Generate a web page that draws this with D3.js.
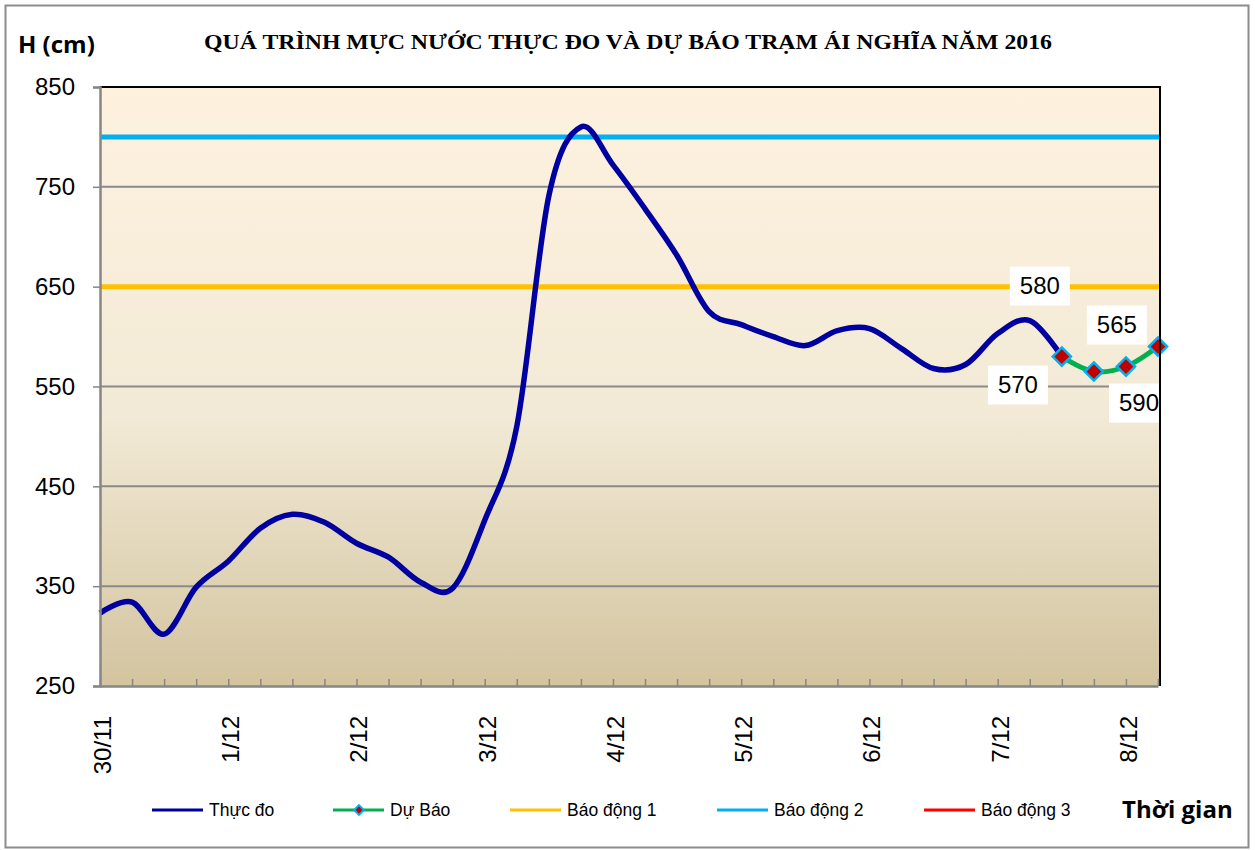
<!DOCTYPE html>
<html>
<head>
<meta charset="utf-8">
<script src="https://cdn.jsdelivr.net/npm/d3@7"></script>
<style>
  body { margin: 0; background: #fff; }
  svg { display: block; }
</style>
</head>
<body>
<svg id="chart" width="1255" height="850"></svg>
<script>
// 6-hourly steps, 30/11 -> 8/12 (+1 step)
const dayLabels = ['30/11', '1/12', '2/12', '3/12', '4/12', '5/12', '6/12', '7/12', '8/12']
const stepsPerDay = 4
const nSteps = 34

// measured water level (cm), index 0..30
const observed = [323, 334, 302, 349, 375, 408, 422, 414, 393, 379, 354, 348,
                  416, 510, 741, 810, 772, 728, 681, 625, 612, 600, 591, 606,
                  608, 588, 568, 572, 603, 616, 580]
// forecast, index 30..33
const forecastStart = 30
const forecast = [580, 565, 570, 590]

const alarmNames = ['Báo động 1', 'Báo động 2', 'Báo động 3']
const alarmLevels = [650, 800, 950]
const alarmColors = ['#FFC000', '#00B0F0', '#FF0000']

const yTicks = [250, 350, 450, 550, 650, 750, 850]

const width = 1255
const height = 850
const margin = {left: 100, right: 95, top: 87, bottom: 164}
const plotW = width - margin.left - margin.right
const plotH = height - margin.top - margin.bottom

const svg = d3.select('#chart')

const x = d3.scaleLinear().domain([0, nSteps - 1]).range([margin.left, margin.left + 1058])
const y = d3.scaleLinear().domain([250, 850]).range([margin.top + plotH, margin.top])

// outer frame
svg.append('rect')
    .attr('x', 5.5).attr('y', 5.5)
    .attr('width', 1243).attr('height', 842)
    .attr('fill', '#fff')
    .attr('stroke', '#8c8c8c').attr('stroke-width', 2)

// plot background
const defs = svg.append('defs')
const grad = defs.append('linearGradient')
    .attr('id', 'bg').attr('x1', 0).attr('y1', 0).attr('x2', 0).attr('y2', 1)
grad.append('stop').attr('offset', '0%').attr('stop-color', '#FEF2DF')
grad.append('stop').attr('offset', '55%').attr('stop-color', '#F2EAD6')
grad.append('stop').attr('offset', '100%').attr('stop-color', '#D3C49F')

defs.append('clipPath').attr('id', 'clip')
    .append('rect')
    .attr('x', margin.left).attr('y', margin.top)
    .attr('width', plotW).attr('height', plotH)

svg.append('rect')
    .attr('x', margin.left).attr('y', margin.top)
    .attr('width', plotW).attr('height', plotH)
    .attr('fill', 'url(#bg)')

// gridlines
svg.append('g')
    .selectAll('line')
    .data(yTicks.filter(v => v > 250 && v < 850))
    .enter()
    .append('line')
    .attr('x1', margin.left).attr('x2', margin.left + plotW)
    .attr('y1', d => y(d)).attr('y2', d => y(d))
    .attr('stroke', '#8a8a8a').attr('stroke-width', 2)

const plotG = svg.append('g').attr('clip-path', 'url(#clip)')

// alarm levels
plotG.selectAll('.alarm')
    .data(alarmLevels)
    .enter()
    .append('line')
    .attr('x1', margin.left).attr('x2', margin.left + plotW)
    .attr('y1', d => y(d)).attr('y2', d => y(d))
    .attr('stroke', (d, i) => alarmColors[i]).attr('stroke-width', 5)

const line = d3.line()
    .x(d => x(d.i))
    .y(d => y(d.v))
    .curve(d3.curveCatmullRom.alpha(0))

const obsData = observed.map((v, i) => ({i, v}))
const fcData = forecast.map((v, i) => ({i: i + forecastStart, v}))

svg.append('path')
    .datum(obsData)
    .attr('fill', 'none')
    .attr('stroke', '#0000A0')
    .attr('stroke-width', 5.5)
    .attr('stroke-linejoin', 'round')
    .attr('d', line)

svg.append('path')
    .datum(fcData)
    .attr('fill', 'none')
    .attr('stroke', '#00B050')
    .attr('stroke-width', 5)
    .attr('d', line)

const diamond = d3.symbol().type(d3.symbolDiamond2).size(210)
svg.append('g')
    .selectAll('path')
    .data(fcData)
    .enter()
    .append('path')
    .attr('transform', d => `translate(${x(d.i)},${y(d.v)})`)
    .attr('d', diamond)
    .attr('fill', '#C00000')
    .attr('stroke', '#00B0F0')
    .attr('stroke-width', 2.5)

// data labels (offsets as in the original)
const labelOffsets = [[-22, -71], [23, -47], [-108, 18], [-19, 56]]
const lab = svg.append('g')
    .selectAll('g')
    .data(fcData)
    .enter()
    .append('g')
    .attr('transform', (d, k) => `translate(${x(d.i) + labelOffsets[k][0]},${y(d.v) + labelOffsets[k][1]})`)
lab.append('rect')
    .attr('x', -30).attr('y', -19)
    .attr('width', 60).attr('height', 39)
    .attr('fill', '#fff')
lab.append('text')
    .attr('text-anchor', 'middle')
    .attr('dy', '0.36em')
    .style('font-family', 'Liberation Sans, Arial, sans-serif')
    .style('font-size', '24px')
    .text(d => d.v)

// plot border top / right
svg.append('path')
    .attr('d', `M${margin.left},${margin.top}H${margin.left + plotW}V${margin.top + plotH}`)
    .attr('fill', 'none')
    .attr('stroke', '#000').attr('stroke-width', 2)

// y axis
const yAxis = svg.append('g')
    .attr('transform', `translate(${margin.left},0)`)
    .call(d3.axisLeft(y).tickValues(yTicks).tickSize(7).tickPadding(18).tickFormat(d3.format('d')))
yAxis.select('.domain').attr('stroke', '#868686').attr('stroke-width', 2.5)
yAxis.selectAll('.tick line').attr('stroke', '#868686').attr('stroke-width', 1.5)
yAxis.selectAll('text')
    .style('font-family', 'Liberation Sans, Arial, sans-serif')
    .style('font-size', '24px')
    .attr('fill', '#000')

// x axis: small ticks pointing inside
const xAxis = svg.append('g')
    .attr('transform', `translate(0,${margin.top + plotH})`)
    .call(d3.axisBottom(x).tickValues(d3.range(nSteps)).tickSize(-7).tickSizeOuter(0).tickFormat(''))
xAxis.select('.domain').attr('stroke', '#868686').attr('stroke-width', 2.5)
xAxis.selectAll('.tick line').attr('stroke', '#868686').attr('stroke-width', 1.5)

const xLab = svg.append('g')
    .attr('transform', `translate(0,${margin.top + plotH})`)
    .call(d3.axisBottom(x).tickValues(dayLabels.map((d, k) => k * stepsPerDay))
        .tickSize(0).tickFormat((d, k) => dayLabels[k]))
xLab.select('.domain').remove()
xLab.selectAll('text')
    .attr('transform', 'rotate(-90)')
    .attr('x', -30).attr('y', 2)
    .attr('dy', '0.35em')
    .style('text-anchor', 'end')
    .style('font-family', 'Liberation Sans, Arial, sans-serif')
    .style('font-size', '24px')
    .attr('fill', '#000')

// titles
svg.append('text')
    .attr('x', 204).attr('y', 49)
    .attr('textLength', 848)
    .attr('lengthAdjust', 'spacingAndGlyphs')
    .style('font-family', 'Liberation Serif, Times New Roman, serif')
    .style('font-weight', 'bold')
    .style('font-size', '21px')
    .text('QUÁ TRÌNH MỰC NƯỚC THỰC ĐO VÀ DỰ BÁO TRẠM ÁI NGHĨA NĂM 2016')

svg.append('text')
    .attr('x', 18).attr('y', 53)
    .style('font-family', 'Open Sans, sans-serif')
    .style('font-weight', 'bold')
    .style('font-size', '24px')
    .text('H (cm)')

svg.append('text')
    .attr('x', 1122).attr('y', 818)
    .style('font-family', 'Open Sans, sans-serif')
    .style('font-weight', 'bold')
    .style('font-size', '24px')
    .text('Thời gian')

// legend
const legendItems = [
    {name: 'Thực đo', color: '#0000A0', marker: false},
    {name: 'Dự Báo', color: '#00B050', marker: true},
    ...alarmNames.map((n, i) => ({name: n, color: alarmColors[i], marker: false}))
]
const legendX = [152, 333, 510, 717, 924]
const legendY = 810
const lg = svg.append('g')
    .selectAll('g')
    .data(legendItems)
    .enter()
    .append('g')
    .attr('transform', (d, i) => `translate(${legendX[i]},${legendY})`)
lg.append('line')
    .attr('x1', 0).attr('x2', 51)
    .attr('stroke', d => d.color).attr('stroke-width', 3)
lg.filter(d => d.marker)
    .append('path')
    .attr('transform', 'translate(26,0)')
    .attr('d', d3.symbol().type(d3.symbolDiamond2).size(60))
    .attr('fill', '#C00000')
    .attr('stroke', '#00B0F0')
    .attr('stroke-width', 2)
lg.append('text')
    .attr('x', 57).attr('dy', '0.35em')
    .style('font-family', 'Liberation Sans, Arial, sans-serif')
    .style('font-size', '17.5px')
    .text(d => d.name)
</script>
</body>
</html>
